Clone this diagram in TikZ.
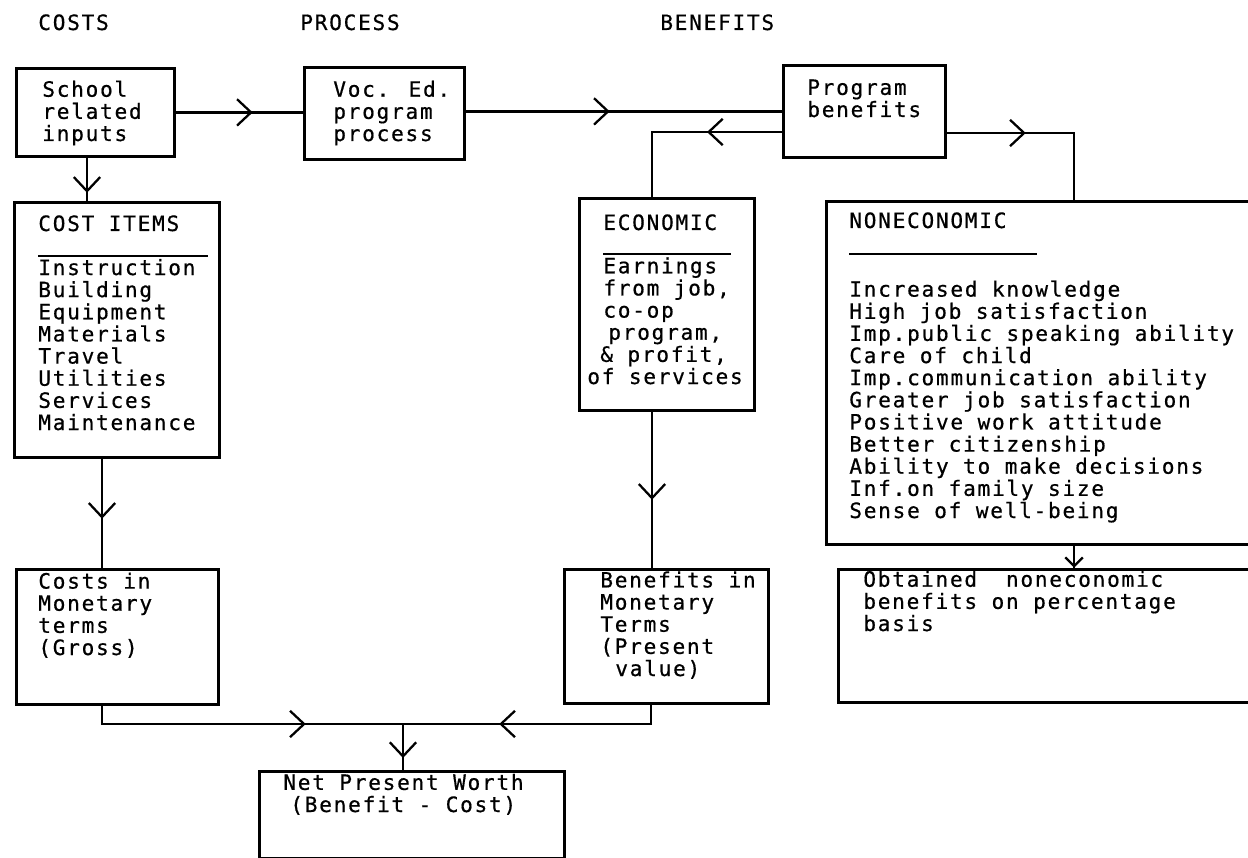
\documentclass[tikz,border=0pt]{standalone}
\usepackage{fontspec}
\newfontfamily\typefont[LetterSpace=8.3,FakeBold=0.6]{DejaVu Sans Mono}
\usetikzlibrary{arrows.meta,decorations.markings}

\begin{document}
\begin{tikzpicture}[x=0.02cm,y=-0.02cm,
  box/.style={draw,line width=1.6pt,anchor=north west,inner sep=0pt},
  txt/.style={anchor=base west,align=left,inner sep=0pt,font=\typefont\fontsize{12pt}{12.6pt}\selectfont},
  wire/.style={line width=1.3pt},
  chev/.style={postaction={decorate,decoration={markings,mark=at position #1 with {\arrow{Straight Barb[length=8pt,width=15pt,line width=1.3pt]}}}}},
  smallchev/.style={postaction={decorate,decoration={markings,mark=at position #1 with {\arrow{Straight Barb[length=5pt,width=10pt,line width=1.3pt]}}}}}]
\clip (0,0) rectangle (1248,858);

\node[txt] (costs) at (38,30) {COSTS};
\node[txt] (process) at (300,30) {PROCESS};
\node[txt] (benefits) at (660,30) {BENEFITS};

\node[box,minimum width=3.16cm,minimum height=1.76cm] (school) at (15,67) {};
\node[box,minimum width=3.2cm,minimum height=1.84cm] (voc) at (303,66) {};
\node[box,minimum width=3.24cm,minimum height=1.84cm] (prog) at (782,64) {};
\node[box,minimum width=4.1cm,minimum height=5.1cm] (items) at (13,201) {};
\node[box,minimum width=3.5cm,minimum height=4.24cm] (econ) at (578,197) {};
\node[box,minimum width=8.8cm,minimum height=6.86cm] (nonecon) at (825,200) {};
\node[box,minimum width=4.04cm,minimum height=2.7cm] (costmon) at (15,568) {};
\node[box,minimum width=4.08cm,minimum height=2.68cm] (benmon) at (563,568) {};
\node[box,minimum width=8.6cm,minimum height=2.66cm] (obtained) at (837,568) {};
\node[box,minimum width=6.1cm,minimum height=1.74cm] (net) at (258,770) {};

% multi-line texts sit on the baseline of their last line
\node[txt] (schooltxt) at (42,141) {School\\related\\inputs};
\node[txt] (voctxt) at (333,141) {Voc. Ed.\\program\\process};
\node[txt] (progtxt) at (807,117) {Program\\benefits};
\node[txt] (itemshead) at (38,231) {COST ITEMS};
\node[txt] (itemstxt) at (38,430) {Instruction\\Building\\Equipment\\Materials\\Travel\\Utilities\\Services\\Maintenance};
\node[txt] (econhead) at (603,230) {ECONOMIC};
\node[txt] (econtxt) at (587,384) {\hspace*{.32cm}Earnings\\\hspace*{.32cm}from job,\\\hspace*{.32cm}co-op\\\hspace*{.42cm}program,\\\hspace*{.26cm}\& profit,\\of services};
\node[txt] (noneconhead) at (849,228) {NONECONOMIC};
\node[txt] (nonecontxt) at (849,518) {Increased knowledge\\High job satisfaction\\Imp.public speaking ability\\Care of child\\Imp.communication ability\\Greater job satisfaction\\Positive work attitude\\Better citizenship\\Ability to make decisions\\Inf.on family size\\Sense of well-being};
\node[txt] (costmontxt) at (38,655) {Costs in\\Monetary\\terms\\(Gross)};
\node[txt] (benmontxt) at (600,676) {Benefits in\\Monetary\\Terms\\(Present\\\hspace*{.3cm}value)};
\node[txt] (obtainedtxt) at (863,631) {Obtained~~noneconomic\\benefits on percentage\\basis};
\node[txt] (nettxt) at (283,812) {Net Present Worth\\\hspace*{.14cm}(Benefit - Cost)};

% rules under the headings
\draw[line width=0.9pt] (38,256) -- (208,256);
\draw[line width=0.9pt] (603,254) -- (731,254);
\draw[line width=0.9pt] (849,254) -- (1037,254);

\coordinate (sx) at (87,0);
\coordinate (cx) at (102,0);
\coordinate (bx) at (651,0);
\coordinate (ex) at (652,132);
\coordinate (nx) at (1074,133);
\coordinate (jn) at (403,724);

\draw[wire,chev=1.54cm] (school.east) -- (school.east -| voc.west);
\draw[line width=2pt,chev=2.88cm] (prog.west -| voc.east) -- (prog.west);
\draw[wire,chev=1.5cm] (prog.west |- ex) -- (ex) -- (ex |- econ.north);
\draw[wire,chev=1.58cm] (prog.east |- nx) -- (nx) -- (nx |- nonecon.north);
\draw[wire,chev=0.7cm] (sx |- school.south) -- (sx |- items.north);
\draw[wire,chev=1.2cm] (cx |- items.south) -- (cx |- costmon.north);
\draw[wire,chev=1.76cm] (ex |- econ.south) -- (ex |- benmon.north);
\draw[wire,smallchev=0.44cm] (nx |- nonecon.south) -- (nx |- obtained.north);

% bottom junction
\draw[wire,chev=4.44cm] (cx |- costmon.south) -- (cx |- jn) -- (jn);
\draw[wire,chev=3.42cm] (bx |- benmon.south) -- (bx |- jn) -- (jn);
\draw[wire,chev=0.68cm] (jn) -- (jn |- net.north);
\end{tikzpicture}
\end{document}
